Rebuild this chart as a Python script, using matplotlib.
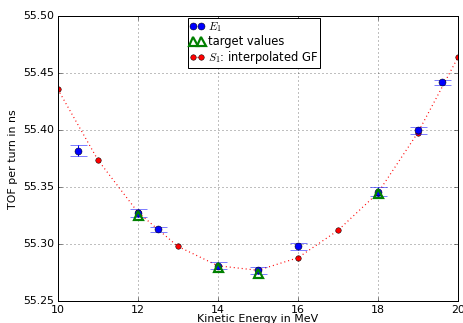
import numpy as np
import matplotlib
matplotlib.use('Agg')
import matplotlib.pyplot as plt

plt.style.use('classic')

# gemessene Werte E_1
e1_energy = [10.5, 12.0, 12.5, 14.0, 15.0, 16.0, 18.0, 19.0, 19.6]
e1_tof = [55.382, 55.327, 55.313, 55.281, 55.277, 55.298, 55.346, 55.400, 55.442]
e1_err = [0.0047, 0.0035, 0.0020, 0.0030, 0.0030, 0.0030, 0.0038, 0.0030, 0.0022]

# Zielwerte
target_energy = [12.0, 14.0, 15.0, 18.0]
target_tof = [55.326, 55.280, 55.275, 55.345]

# interpolierte GF
gf_energy = [10, 11, 12, 13, 14, 15, 16, 17, 18, 19, 20]
gf_tof = [55.436, 55.374, 55.328, 55.298, 55.281, 55.277, 55.288, 55.312, 55.345, 55.398, 55.464]

fig = plt.figure(figsize=(463 / 72.0, 323 / 72.0), dpi=72)
ax = fig.add_axes([0.125, 0.068, 0.864, 0.881])

h3, = ax.plot(gf_energy, gf_tof, 'r:', marker='o', markerfacecolor='r', markeredgecolor='k',
              markersize=5.5, linewidth=1.2, zorder=2)
h1 = ax.errorbar(e1_energy, e1_tof, yerr=e1_err, fmt='o', color='b', ecolor='b',
                 markersize=7, capsize=8.5, elinewidth=1, zorder=3)
h2, = ax.plot(target_energy, target_tof, '^', markerfacecolor='none', markeredgecolor='g',
              markeredgewidth=2.2, markersize=9, zorder=4)

ax.set_xlim(10, 20)
ax.set_ylim(55.25, 55.50)
ax.set_xticks(np.arange(10, 21, 2))
ax.set_yticks(np.arange(55.25, 55.51, 0.05))
ax.yaxis.set_major_formatter(matplotlib.ticker.FormatStrFormatter('%.2f'))
ax.tick_params(labelsize=11)
ax.grid(True)

ax.set_xlabel('Kinetic Energy in MeV', fontsize=11, labelpad=-1)
ax.set_ylabel('TOF per turn in ns', fontsize=11)

ax.legend([h1[0], h2, h3], ['$E_1$', 'target values', '$S_1$: interpolated GF'],
          loc='upper center', bbox_to_anchor=(0.49, 1.0), numpoints=2, fontsize=11.5,
          handlelength=1.3, handletextpad=0.25, borderpad=0.15, labelspacing=0.1,
          borderaxespad=0.15)

fig.savefig('out.png', dpi=72)
